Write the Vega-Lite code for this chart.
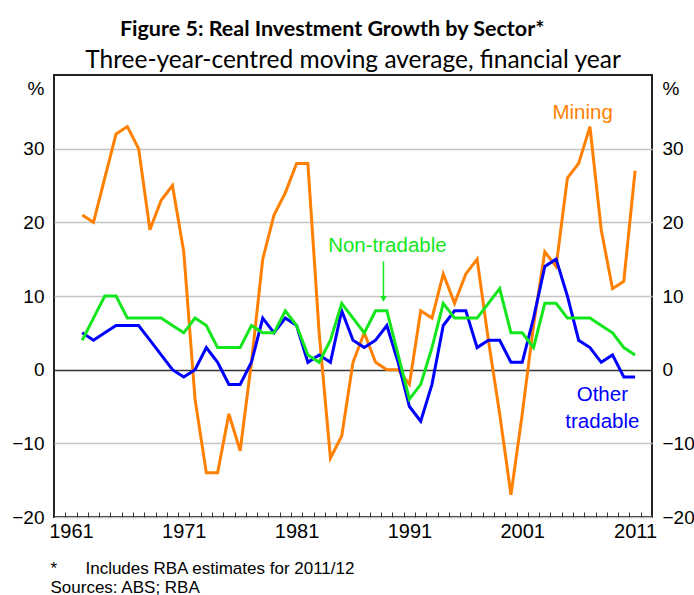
{
  "$schema": "https://vega.github.io/schema/vega-lite/v6.json",
  "width": 598,
  "height": 442,
  "autosize": {"type": "none"},
  "padding": {"left": 54, "top": 75, "right": 42, "bottom": 78},
  "background": "white",
  "config": {
    "view": {"stroke": "#222222", "strokeWidth": 2},
    "font": "Liberation Sans"
  },
  "title": {
    "text": "Figure 5: Real Investment Growth by Sector*\u00a0\u00a0\u00a0\u00a0\u00a0\u00a0\u00a0\u00a0\u200b",
    "subtitle": "Three-year-centred moving average, financial year",
    "anchor": "middle",
    "frame": "group",
    "font": "Lato",
    "fontWeight": "bold",
    "fontSize": 21.5,
    "color": "black",
    "subtitleFont": "Lato",
    "subtitleFontSize": 24.5,
    "subtitleColor": "black",
    "subtitlePadding": 8,
    "offset": 3
  },
  "datasets": {
    "series": [
      {"year": 1962, "series": "Mining", "value": 21},
      {"year": 1963, "series": "Mining", "value": 20},
      {"year": 1964, "series": "Mining", "value": 26},
      {"year": 1965, "series": "Mining", "value": 32},
      {"year": 1966, "series": "Mining", "value": 33},
      {"year": 1967, "series": "Mining", "value": 30},
      {"year": 1968, "series": "Mining", "value": 19},
      {"year": 1969, "series": "Mining", "value": 23},
      {"year": 1970, "series": "Mining", "value": 25},
      {"year": 1971, "series": "Mining", "value": 16},
      {"year": 1972, "series": "Mining", "value": -4},
      {"year": 1973, "series": "Mining", "value": -14},
      {"year": 1974, "series": "Mining", "value": -14},
      {"year": 1975, "series": "Mining", "value": -6},
      {"year": 1976, "series": "Mining", "value": -11},
      {"year": 1977, "series": "Mining", "value": 1},
      {"year": 1978, "series": "Mining", "value": 15},
      {"year": 1979, "series": "Mining", "value": 21},
      {"year": 1980, "series": "Mining", "value": 24},
      {"year": 1981, "series": "Mining", "value": 28},
      {"year": 1982, "series": "Mining", "value": 28},
      {"year": 1983, "series": "Mining", "value": 5},
      {"year": 1984, "series": "Mining", "value": -12},
      {"year": 1985, "series": "Mining", "value": -9},
      {"year": 1986, "series": "Mining", "value": 1},
      {"year": 1987, "series": "Mining", "value": 5},
      {"year": 1988, "series": "Mining", "value": 1},
      {"year": 1989, "series": "Mining", "value": 0},
      {"year": 1990, "series": "Mining", "value": 0},
      {"year": 1991, "series": "Mining", "value": -2},
      {"year": 1992, "series": "Mining", "value": 8},
      {"year": 1993, "series": "Mining", "value": 7},
      {"year": 1994, "series": "Mining", "value": 13},
      {"year": 1995, "series": "Mining", "value": 9},
      {"year": 1996, "series": "Mining", "value": 13},
      {"year": 1997, "series": "Mining", "value": 15},
      {"year": 1998, "series": "Mining", "value": 4},
      {"year": 1999, "series": "Mining", "value": -6},
      {"year": 2000, "series": "Mining", "value": -17},
      {"year": 2001, "series": "Mining", "value": -6},
      {"year": 2002, "series": "Mining", "value": 6},
      {"year": 2003, "series": "Mining", "value": 16},
      {"year": 2004, "series": "Mining", "value": 14},
      {"year": 2005, "series": "Mining", "value": 26},
      {"year": 2006, "series": "Mining", "value": 28},
      {"year": 2007, "series": "Mining", "value": 33},
      {"year": 2008, "series": "Mining", "value": 19},
      {"year": 2009, "series": "Mining", "value": 11},
      {"year": 2010, "series": "Mining", "value": 12},
      {"year": 2011, "series": "Mining", "value": 27},
      {"year": 1962, "series": "Other tradable", "value": 5},
      {"year": 1963, "series": "Other tradable", "value": 4},
      {"year": 1964, "series": "Other tradable", "value": 5},
      {"year": 1965, "series": "Other tradable", "value": 6},
      {"year": 1966, "series": "Other tradable", "value": 6},
      {"year": 1967, "series": "Other tradable", "value": 6},
      {"year": 1968, "series": "Other tradable", "value": 4},
      {"year": 1969, "series": "Other tradable", "value": 2},
      {"year": 1970, "series": "Other tradable", "value": 0},
      {"year": 1971, "series": "Other tradable", "value": -1},
      {"year": 1972, "series": "Other tradable", "value": 0},
      {"year": 1973, "series": "Other tradable", "value": 3},
      {"year": 1974, "series": "Other tradable", "value": 1},
      {"year": 1975, "series": "Other tradable", "value": -2},
      {"year": 1976, "series": "Other tradable", "value": -2},
      {"year": 1977, "series": "Other tradable", "value": 1},
      {"year": 1978, "series": "Other tradable", "value": 7},
      {"year": 1979, "series": "Other tradable", "value": 5},
      {"year": 1980, "series": "Other tradable", "value": 7},
      {"year": 1981, "series": "Other tradable", "value": 6},
      {"year": 1982, "series": "Other tradable", "value": 1},
      {"year": 1983, "series": "Other tradable", "value": 2},
      {"year": 1984, "series": "Other tradable", "value": 1},
      {"year": 1985, "series": "Other tradable", "value": 8},
      {"year": 1986, "series": "Other tradable", "value": 4},
      {"year": 1987, "series": "Other tradable", "value": 3},
      {"year": 1988, "series": "Other tradable", "value": 4},
      {"year": 1989, "series": "Other tradable", "value": 6},
      {"year": 1990, "series": "Other tradable", "value": 1},
      {"year": 1991, "series": "Other tradable", "value": -5},
      {"year": 1992, "series": "Other tradable", "value": -7},
      {"year": 1993, "series": "Other tradable", "value": -2},
      {"year": 1994, "series": "Other tradable", "value": 6},
      {"year": 1995, "series": "Other tradable", "value": 8},
      {"year": 1996, "series": "Other tradable", "value": 8},
      {"year": 1997, "series": "Other tradable", "value": 3},
      {"year": 1998, "series": "Other tradable", "value": 4},
      {"year": 1999, "series": "Other tradable", "value": 4},
      {"year": 2000, "series": "Other tradable", "value": 1},
      {"year": 2001, "series": "Other tradable", "value": 1},
      {"year": 2002, "series": "Other tradable", "value": 7},
      {"year": 2003, "series": "Other tradable", "value": 14},
      {"year": 2004, "series": "Other tradable", "value": 15},
      {"year": 2005, "series": "Other tradable", "value": 10},
      {"year": 2006, "series": "Other tradable", "value": 4},
      {"year": 2007, "series": "Other tradable", "value": 3},
      {"year": 2008, "series": "Other tradable", "value": 1},
      {"year": 2009, "series": "Other tradable", "value": 2},
      {"year": 2010, "series": "Other tradable", "value": -1},
      {"year": 2011, "series": "Other tradable", "value": -1},
      {"year": 1962, "series": "Non-tradable", "value": 4},
      {"year": 1963, "series": "Non-tradable", "value": 7},
      {"year": 1964, "series": "Non-tradable", "value": 10},
      {"year": 1965, "series": "Non-tradable", "value": 10},
      {"year": 1966, "series": "Non-tradable", "value": 7},
      {"year": 1967, "series": "Non-tradable", "value": 7},
      {"year": 1968, "series": "Non-tradable", "value": 7},
      {"year": 1969, "series": "Non-tradable", "value": 7},
      {"year": 1970, "series": "Non-tradable", "value": 6},
      {"year": 1971, "series": "Non-tradable", "value": 5},
      {"year": 1972, "series": "Non-tradable", "value": 7},
      {"year": 1973, "series": "Non-tradable", "value": 6},
      {"year": 1974, "series": "Non-tradable", "value": 3},
      {"year": 1975, "series": "Non-tradable", "value": 3},
      {"year": 1976, "series": "Non-tradable", "value": 3},
      {"year": 1977, "series": "Non-tradable", "value": 6},
      {"year": 1978, "series": "Non-tradable", "value": 5},
      {"year": 1979, "series": "Non-tradable", "value": 5},
      {"year": 1980, "series": "Non-tradable", "value": 8},
      {"year": 1981, "series": "Non-tradable", "value": 6},
      {"year": 1982, "series": "Non-tradable", "value": 2},
      {"year": 1983, "series": "Non-tradable", "value": 1},
      {"year": 1984, "series": "Non-tradable", "value": 4},
      {"year": 1985, "series": "Non-tradable", "value": 9},
      {"year": 1986, "series": "Non-tradable", "value": 7},
      {"year": 1987, "series": "Non-tradable", "value": 5},
      {"year": 1988, "series": "Non-tradable", "value": 8},
      {"year": 1989, "series": "Non-tradable", "value": 8},
      {"year": 1990, "series": "Non-tradable", "value": 2},
      {"year": 1991, "series": "Non-tradable", "value": -4},
      {"year": 1992, "series": "Non-tradable", "value": -2},
      {"year": 1993, "series": "Non-tradable", "value": 3},
      {"year": 1994, "series": "Non-tradable", "value": 9},
      {"year": 1995, "series": "Non-tradable", "value": 7},
      {"year": 1996, "series": "Non-tradable", "value": 7},
      {"year": 1997, "series": "Non-tradable", "value": 7},
      {"year": 1998, "series": "Non-tradable", "value": 9},
      {"year": 1999, "series": "Non-tradable", "value": 11},
      {"year": 2000, "series": "Non-tradable", "value": 5},
      {"year": 2001, "series": "Non-tradable", "value": 5},
      {"year": 2002, "series": "Non-tradable", "value": 3},
      {"year": 2003, "series": "Non-tradable", "value": 9},
      {"year": 2004, "series": "Non-tradable", "value": 9},
      {"year": 2005, "series": "Non-tradable", "value": 7},
      {"year": 2006, "series": "Non-tradable", "value": 7},
      {"year": 2007, "series": "Non-tradable", "value": 7},
      {"year": 2008, "series": "Non-tradable", "value": 6},
      {"year": 2009, "series": "Non-tradable", "value": 5},
      {"year": 2010, "series": "Non-tradable", "value": 3},
      {"year": 2011, "series": "Non-tradable", "value": 2}
    ],
    "labels": [
      {"year": 2006.35, "value": 34.9, "series": "Mining", "label": "Mining"},
      {"year": 1989.05, "value": 16.8, "series": "Non-tradable", "label": "Non-tradable"},
      {"year": 2008.1, "value": -3.4, "series": "Other tradable", "label": "Other tradable"}
    ],
    "arrow": [
      {"year": 1988.7, "value": 14.7, "value2": 10.0, "series": "Non-tradable"}
    ],
    "arrowhead": [
      {"year": 1988.7, "value": 9.6, "series": "Non-tradable"}
    ]
  },
  "layer": [
    {
      "data": {"name": "series"},
      "transform": [{"filter": "datum.series == 'Mining'"}],
      "mark": {"type": "line", "strokeWidth": 3},
      "encoding": {
        "x": {
          "field": "year",
          "type": "quantitative",
          "scale": {"domain": [1959.5, 2012.5], "nice": false, "zero": false},
          "axis": {
            "orient": "bottom",
            "title": null,
            "values": [1959.5, 1960.5, 1961.5, 1962.5, 1963.5, 1964.5, 1965.5, 1966.5, 1967.5, 1968.5, 1969.5, 1970.5, 1971.5, 1972.5, 1973.5, 1974.5, 1975.5, 1976.5, 1977.5, 1978.5, 1979.5, 1980.5, 1981.5, 1982.5, 1983.5, 1984.5, 1985.5, 1986.5, 1987.5, 1988.5, 1989.5, 1990.5, 1991.5, 1992.5, 1993.5, 1994.5, 1995.5, 1996.5, 1997.5, 1998.5, 1999.5, 2000.5, 2001.5, 2002.5, 2003.5, 2004.5, 2005.5, 2006.5, 2007.5, 2008.5, 2009.5, 2010.5, 2011.5, 2012.5],
            "labels": false,
            "domain": false,
            "grid": false,
            "ticks": true,
            "offset": -5,
            "tickSize": 5,
            "tickColor": "#333333",
            "tickWidth": 1
          }
        },
        "y": {
          "field": "value",
          "type": "quantitative",
          "scale": {"domain": [-20, 40], "nice": false, "zero": false},
          "axis": {
            "orient": "left",
            "title": null,
            "values": [-20, -10, 0, 10, 20, 30, 38.2],
            "labelExpr": "datum.value > 35 ? '%' : datum.label",
            "labelFont": "Liberation Sans",
            "labelFontSize": 19,
            "labelColor": "black",
            "labelPadding": 10,
            "domain": false,
            "ticks": false,
            "grid": true,
            "gridColor": {"condition": {"test": "datum.value == 0", "value": "#333333"}, "value": "#c4c4c4"},
            "gridWidth": 1.5,
            "gridOpacity": {"condition": {"test": "datum.value > 35", "value": 0}, "value": 1}
          }
        },
        "color": {
          "field": "series",
          "type": "nominal",
          "scale": {"domain": ["Mining", "Non-tradable", "Other tradable"], "range": ["#ff8000", "#14e61e", "#0000ff"]},
          "legend": null
        }
      }
    },
    {
      "data": {"name": "series"},
      "transform": [{"filter": "datum.series == 'Other tradable'"}],
      "mark": {"type": "line", "strokeWidth": 3},
      "encoding": {
        "x": {
          "field": "year",
          "type": "quantitative",
          "axis": {
            "orient": "bottom",
            "title": ["*\u00a0\u00a0\u00a0\u00a0\u00a0\u00a0Includes RBA estimates for 2011/12", "Sources: ABS; RBA"],
            "titleFont": "Liberation Sans",
            "titleFontSize": 17,
            "titleFontWeight": "normal",
            "titleColor": "black",
            "titleAlign": "left",
            "titleAnchor": "start",
            "titleBaseline": "alphabetic",
            "titleLineHeight": 19,
            "titleX": -4,
            "titleY": 56,
            "values": [1961, 1971, 1981, 1991, 2001, 2011],
            "format": "d",
            "labelOverlap": false,
            "labelFlush": false,
            "labelFont": "Liberation Sans",
            "labelFontSize": 20,
            "labelColor": "black",
            "labelPadding": 4,
            "domain": false,
            "grid": false,
            "ticks": false
          }
        },
        "y": {"field": "value", "type": "quantitative", "axis": null},
        "color": {"field": "series", "type": "nominal", "legend": null}
      }
    },
    {
      "data": {"name": "series"},
      "transform": [{"filter": "datum.series == 'Non-tradable'"}],
      "mark": {"type": "line", "strokeWidth": 3},
      "encoding": {
        "x": {"field": "year", "type": "quantitative", "axis": null},
        "y": {
          "field": "value",
          "type": "quantitative",
          "axis": {
            "orient": "right",
            "title": null,
            "values": [-20, -10, 0, 10, 20, 30, 38.2],
            "labelExpr": "datum.value > 35 ? '%' : datum.label",
            "labelFont": "Liberation Sans",
            "labelFontSize": 19,
            "labelColor": "black",
            "labelPadding": 10,
            "domain": false,
            "ticks": false,
            "grid": false
          }
        },
        "color": {"field": "series", "type": "nominal", "legend": null}
      }
    },
    {
      "data": {"name": "arrow"},
      "mark": {"type": "rule", "strokeWidth": 1.5},
      "encoding": {
        "x": {"field": "year", "type": "quantitative", "axis": null},
        "y": {"field": "value", "type": "quantitative", "axis": null},
        "y2": {"field": "value2"},
        "color": {"field": "series", "type": "nominal", "legend": null}
      }
    },
    {
      "data": {"name": "arrowhead"},
      "mark": {"type": "point", "shape": "triangle-down", "filled": true, "size": 45, "opacity": 1},
      "encoding": {
        "x": {"field": "year", "type": "quantitative", "axis": null},
        "y": {"field": "value", "type": "quantitative", "axis": null},
        "color": {"field": "series", "type": "nominal", "legend": null}
      }
    },
    {
      "data": {"name": "labels"},
      "mark": {"type": "text", "font": "Liberation Sans", "fontSize": 20.5, "align": "center", "baseline": "middle", "lineBreak": " ", "lineHeight": 27},
      "encoding": {
        "x": {"field": "year", "type": "quantitative", "axis": null},
        "y": {"field": "value", "type": "quantitative", "axis": null},
        "text": {"field": "label"},
        "color": {"field": "series", "type": "nominal", "legend": null}
      }
    }
  ],
  "resolve": {"axis": {"x": "independent", "y": "independent"}}
}
